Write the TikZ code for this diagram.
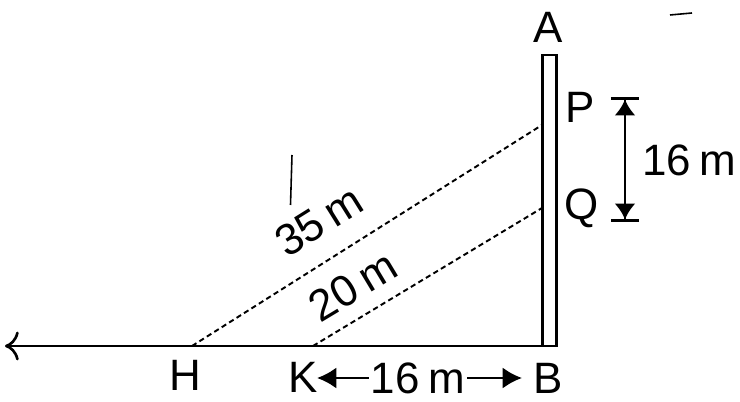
\documentclass[tikz,border=0pt]{standalone}
\usepackage{fontspec}
\setmainfont{Liberation Sans}
\usetikzlibrary{arrows.meta}

\begin{document}
\begin{tikzpicture}[font=\fontsize{25}{28}\selectfont,
  ray/.style={line width=1.1pt, dash pattern=on 3pt off 2pt},
  solidline/.style={line width=1.5pt},
  lbl/.style={inner sep=1pt}]
\useasboundingbox (0,0) rectangle (14.8,8.02);

\coordinate (A) at (10.99,6.92);
\coordinate (B) at (10.99,1.1);
\coordinate (P) at (10.84,5.52);
\coordinate (Q) at (10.84,3.86);
\coordinate (H) at (3.84,1.1);
\coordinate (K) at (6.26,1.1);
\coordinate (E) at (0.1,1.1);

\draw[line width=1.7pt] (10.85,1.1) rectangle (11.13,6.92);
\draw[solidline, -{To[scale=1.6]}] (B) -- (E);
\draw[ray] (H) -- (P);
\draw[ray] (K) -- (Q);

\node[lbl] (lA) at (10.96,7.48) {A};
\node[lbl] (lP) at (11.6,5.88) {P};
\node[lbl] (lQ) at (11.64,3.86) {Q};
\node[lbl] (lH) at (3.7,0.52) {H};
\node[lbl] (lK) at (6.06,0.48) {K};
\node[lbl] (lB) at (10.96,0.46) {B};

\node[lbl, rotate=32] (hp) at (6.38,3.6) {35\hspace{0.2em}m};
\node[lbl, rotate=31] (kq) at (7.06,2.3) {20\hspace{0.2em}m};

\node[lbl] (kb) at (8.36,0.46) {16\hspace{0.2em}m};
\coordinate (kl) at (6.34,0.46);
\coordinate (kr) at (10.44,0.46);
\draw[solidline, -{Latex[length=11pt,width=12pt]}] (kb) -- (kl);
\draw[solidline, -{Latex[length=11pt,width=12pt]}] (kb) -- (kr);

\coordinate (pt) at (12.5,6.08);
\coordinate (qt) at (12.5,3.58);
\draw[solidline, {Bar[width=16pt]Latex[length=9pt,width=12pt]}-{Latex[length=9pt,width=12pt]Bar[width=16pt]}] (pt) -- (qt);
\node[lbl, anchor=west] (pq) at (12.8,4.82) {16\hspace{0.2em}m};

\draw[line width=0.9pt] (5.84,4.92) -- (5.81,3.92);
\draw[line width=0.9pt] (13.4,7.72) -- (13.84,7.76);
\end{tikzpicture}
\end{document}
